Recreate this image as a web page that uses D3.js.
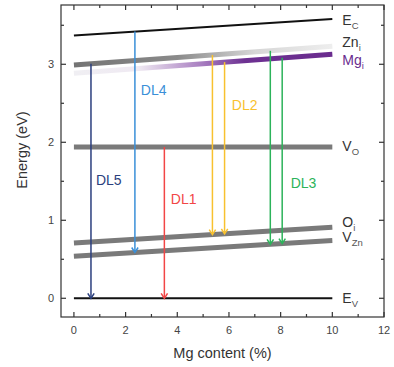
<!DOCTYPE html>
<html>
<head>
<meta charset="utf-8">
<script src="https://cdn.jsdelivr.net/npm/d3@7"></script>
<style>
  body { margin: 0; background: #fff; }
  text { font-family: "Liberation Sans", Arial, sans-serif; }
</style>
</head>
<body>
<svg id="chart" width="394" height="367"></svg>
<script>
// Energy levels (eV) at 0 % and 10 % Mg
const levelKeys   = ["EC", "Zni", "Mgi", "VO", "Oi", "VZn", "EV"];
const levelMain   = ["E", "Zn", "Mg", "V", "O", "V", "E"];
const levelSub    = ["C", "i", "i", "O", "i", "Zn", "V"];
const levelAt0    = [3.37, 2.99, 2.885, 1.94, 0.71, 0.54, 0.0];
const levelAt10   = [3.58, 3.23, 3.13, 1.94, 0.91, 0.74, 0.0];
const levelLabelE = [3.50, 3.225, 2.99, 1.894, 0.915, 0.723, -0.06];

// Radiative transitions (deep-level emissions)
const transName = ["DL5", "DL4", "DL1", "DL2", "DL2", "DL3", "DL3"];
const transMg   = [0.66, 2.36, 3.5, 5.36, 5.83, 7.6, 8.06];
const transFrom = ["Zni", "EC", "VO", "Zni", "Mgi", "Zni", "Mgi"];
const transTo   = ["EV", "VZn", "EV", "Oi", "Oi", "VZn", "VZn"];

// Transition label anchors (Mg %, eV)
const dlNames  = ["DL5", "DL4", "DL1", "DL2", "DL3"];
const dlLabelX = [0.85, 2.59, 3.75, 6.11, 8.39];
const dlLabelE = [1.52, 2.67, 1.27, 2.48, 1.48];
const dlColors = ["#2b3f7e", "#3a8fd8", "#f24646", "#f8c12e", "#2cb35a"];

const xTicks = [0, 2, 4, 6, 8, 10, 12];
const yTicks = [0, 1, 2, 3];

const svg = d3.select("#chart");
const plotL = 61, plotR = 384, plotT = 5, plotB = 317;

const x = d3.scaleLinear().domain([-0.5, 12]).range([plotL, plotR]);
const y = d3.scaleLinear().domain([-0.24, 3.76]).range([plotB, plotT]);

const colorOf = name => dlColors[dlNames.indexOf(name)];
const levelAt = (key, mg) => {
  const i = levelKeys.indexOf(key);
  return levelAt0[i] + (levelAt10[i] - levelAt0[i]) * mg / 10;
};

// gradients for the interstitial levels
const defs = svg.append("defs");
function gradient(id, stops) {
  const g = defs.append("linearGradient").attr("id", id)
    .attr("gradientUnits", "userSpaceOnUse")
    .attr("x1", x(0)).attr("x2", x(10)).attr("y1", 0).attr("y2", 0);
  stops.forEach(s => g.append("stop").attr("offset", s[0]).attr("stop-color", s[1]));
}
gradient("g-Zni", [[0, "#747474"], [0.4, "#8a8a8a"], [0.7, "#d6d6d6"], [1, "#eeeeee"]]);
gradient("g-Mgi", [[0, "#f0eff3"], [0.25, "#efe9f2"], [0.5, "#a67bbf"], [0.66, "#6d3192"], [1, "#6a2c8e"]]);

const levelStyle = {
  EC:  { stroke: "#111", width: 2 },
  Zni: { stroke: "url(#g-Zni)", width: 5 },
  Mgi: { stroke: "url(#g-Mgi)", width: 5 },
  VO:  { stroke: "#7a7a7a", width: 5 },
  Oi:  { stroke: "#7a7a7a", width: 5 },
  VZn: { stroke: "#7a7a7a", width: 5 },
  EV:  { stroke: "#111", width: 2 }
};

// draw levels (Mg_i under Zn_i)
const drawOrder = ["Mgi", "Zni", "VO", "Oi", "VZn", "EC", "EV"];
drawOrder.forEach(k => {
  const i = levelKeys.indexOf(k);
  svg.append("line")
    .attr("x1", x(0)).attr("x2", x(10))
    .attr("y1", y(levelAt0[i])).attr("y2", y(levelAt10[i]))
    .attr("stroke", levelStyle[k].stroke)
    .attr("stroke-width", levelStyle[k].width);
});

// level labels
levelKeys.forEach((k, i) => {
  const t = svg.append("text")
    .attr("x", x(10) + 10).attr("y", y(levelLabelE[i]))
    .attr("font-size", 14)
    .attr("fill", k === "Mgi" ? "#6a2c8e" : "#333");
  t.append("tspan").text(levelMain[i]);
  t.append("tspan").attr("font-size", 9.5).attr("dy", 4)
    .attr("fill", k === "Mgi" ? "#6a2c8e" : "#555").text(levelSub[i]);
});

// transitions
transName.forEach((n, i) => {
  const mg = transMg[i];
  const px = x(mg);
  const y0 = y(levelAt(transFrom[i], mg));
  const y1 = y(levelAt(transTo[i], mg));
  const c = colorOf(n);
  svg.append("line").attr("x1", px).attr("x2", px).attr("y1", y0).attr("y2", y1 - 0.5)
    .attr("stroke", c).attr("stroke-width", 1.5);
  svg.append("path")
    .attr("d", `M${px - 3.2},${y1 - 5} L${px},${y1} L${px + 3.2},${y1 - 5}`)
    .attr("fill", "none").attr("stroke", c).attr("stroke-width", 1.5);
});

dlNames.forEach((n, i) => {
  svg.append("text")
    .attr("x", x(dlLabelX[i])).attr("y", y(dlLabelE[i]))
    .attr("dy", "0.36em")
    .attr("font-size", 14).attr("fill", dlColors[i]).text(n);
});

// frame
svg.append("rect").attr("x", plotL).attr("y", plotT)
  .attr("width", plotR - plotL).attr("height", plotB - plotT)
  .attr("fill", "none").attr("stroke", "#333").attr("stroke-width", 1.2);

// inward ticks on all sides
const tickG = svg.append("g").attr("stroke", "#333").attr("stroke-width", 1.2);
d3.range(0, 13, 1).forEach(v => {
  const len = v % 2 === 0 ? 5 : 3;
  tickG.append("line").attr("x1", x(v)).attr("x2", x(v)).attr("y1", plotB).attr("y2", plotB - len);
  tickG.append("line").attr("x1", x(v)).attr("x2", x(v)).attr("y1", plotT).attr("y2", plotT + len);
});
d3.range(0, 3.76, 0.5).forEach(v => {
  const len = Math.abs(v - Math.round(v)) < 1e-6 ? 5 : 3;
  tickG.append("line").attr("x1", plotL).attr("x2", plotL + len).attr("y1", y(v)).attr("y2", y(v));
  tickG.append("line").attr("x1", plotR).attr("x2", plotR - len).attr("y1", y(v)).attr("y2", y(v));
});

// tick labels
svg.append("g").selectAll("text").data(xTicks).join("text")
  .attr("x", d => x(d)).attr("y", plotB + 17)
  .attr("text-anchor", "middle").attr("font-size", 11).attr("fill", "#444")
  .text(d => d);
svg.append("g").selectAll("text").data(yTicks).join("text")
  .attr("x", plotL - 7).attr("y", d => y(d)).attr("dy", "0.36em")
  .attr("text-anchor", "end").attr("font-size", 11).attr("fill", "#444")
  .text(d => d);

// axis titles
svg.append("text").attr("x", (plotL + plotR) / 2).attr("y", 358)
  .attr("text-anchor", "middle").attr("font-size", 14.5).attr("fill", "#333")
  .text("Mg content (%)");
svg.append("text").attr("transform", "translate(27,150) rotate(-90)")
  .attr("text-anchor", "middle").attr("font-size", 14.5).attr("fill", "#333")
  .text("Energy (eV)");
</script>
</body>
</html>
